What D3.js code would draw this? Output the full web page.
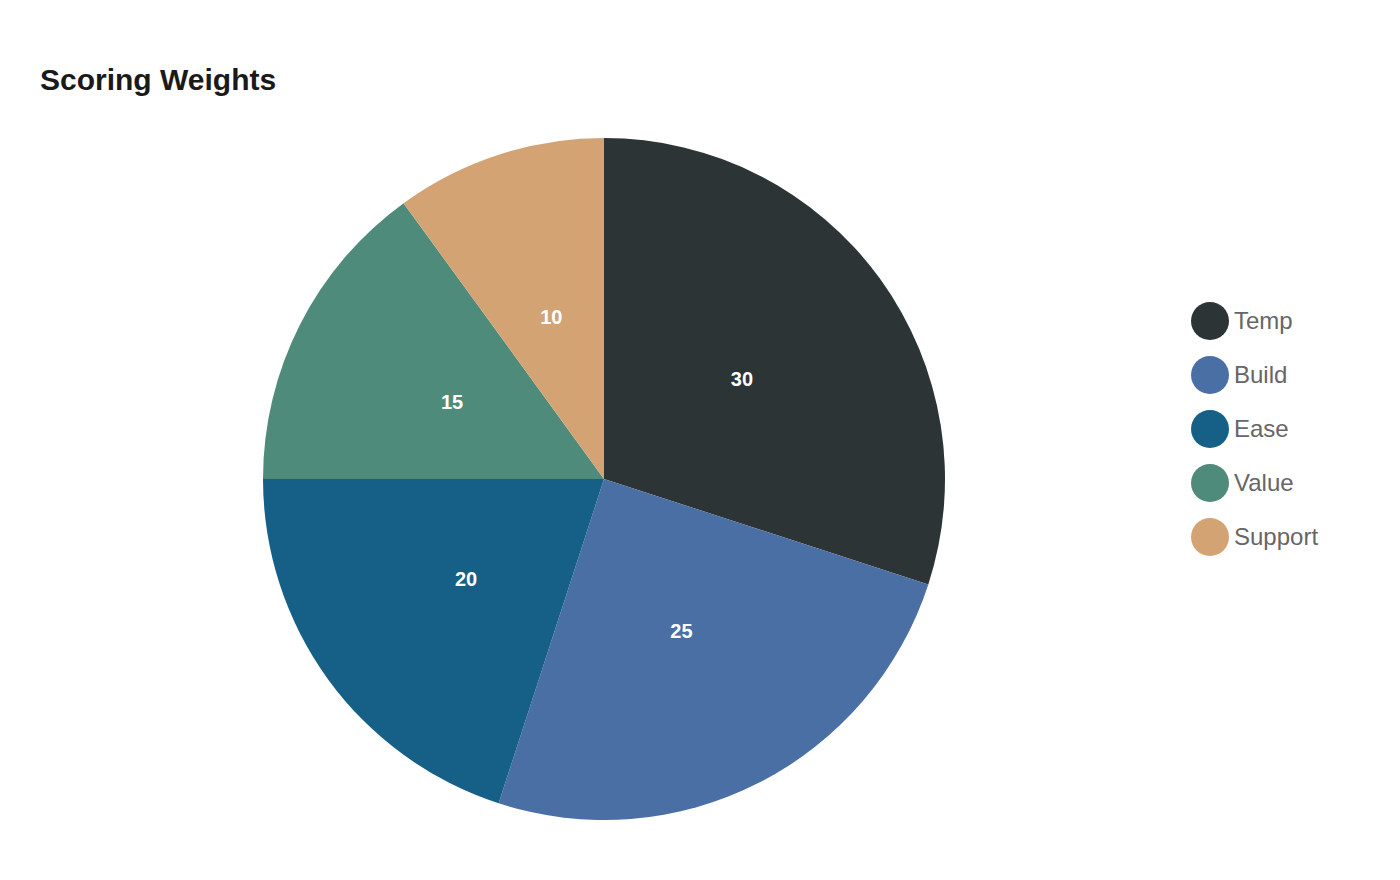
<!DOCTYPE html>
<html>
<head>
<meta charset="utf-8">
<script src="https://cdn.jsdelivr.net/npm/d3@7"></script>
<style>
  body { margin: 0; background: #fff; font-family: "Liberation Sans", Arial, sans-serif; }
</style>
</head>
<body>
<div id="chart"></div>
<script>
const categories = ['Temp', 'Build', 'Ease', 'Value', 'Support'];
const weights = [30, 25, 20, 15, 10];
const colors = ['#2d3436', '#4a6fa5', '#166088', '#4f8b7a', '#d4a373'];

const width = 1400, height = 880;
const cx = 604, cy = 479, radius = 341;

const svg = d3.select('#chart').append('svg')
  .attr('width', width)
  .attr('height', height);

svg.append('text')
  .attr('x', 40).attr('y', 90)
  .attr('font-size', 30).attr('font-weight', 'bold')
  .attr('fill', '#1a1a1a')
  .text('Scoring Weights');

const data = categories.map((c, i) => ({ name: c, value: weights[i] }));
const color = d3.scaleOrdinal().domain(categories).range(colors);

const pie = d3.pie().value(d => d.value).sort(null);
const arc = d3.arc().innerRadius(0).outerRadius(radius);
const labelArc = d3.arc().innerRadius(radius * 0.5).outerRadius(radius * 0.5);

const g = svg.append('g').attr('transform', `translate(${cx},${cy})`);
const slices = g.selectAll('.slice').data(pie(data)).enter().append('g').attr('class', 'slice');

slices.append('path')
  .attr('d', arc)
  .attr('fill', d => color(d.data.name));

slices.append('text')
  .attr('transform', d => `translate(${labelArc.centroid(d)})`)
  .attr('text-anchor', 'middle')
  .attr('dy', '0.35em')
  .attr('font-size', 20).attr('font-weight', 'bold')
  .attr('fill', '#fff')
  .text(d => d.data.value);

// legend
const legend = svg.append('g').attr('transform', 'translate(1210,321)');
const items = legend.selectAll('.item').data(categories).enter().append('g')
  .attr('class', 'item')
  .attr('transform', (d, i) => `translate(0,${i * 54})`);

items.append('circle').attr('r', 19).attr('fill', d => color(d));
items.append('text')
  .attr('x', 24).attr('dy', '0.35em')
  .attr('font-size', 24).attr('fill', '#666')
  .text(d => d);
</script>
</body>
</html>
